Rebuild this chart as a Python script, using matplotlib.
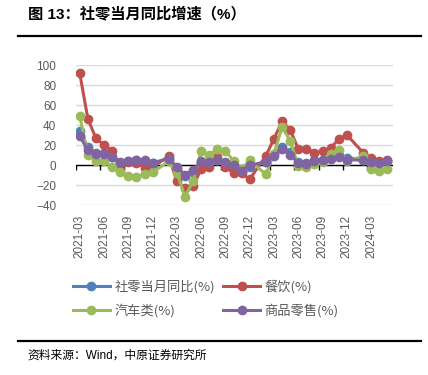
import matplotlib
matplotlib.use("Agg")
import matplotlib.pyplot as plt
from matplotlib.lines import Line2D

plt.rcParams['font.family'] = ['Liberation Sans', 'Noto Sans CJK SC', 'DejaVu Sans']

# months with data (January is reported together with February, so it is missing)
months = ['2021-03', '2021-04', '2021-05', '2021-06', '2021-07', '2021-08', '2021-09',
          '2021-10', '2021-11', '2021-12', '2022-02', '2022-03', '2022-04', '2022-05',
          '2022-06', '2022-07', '2022-08', '2022-09', '2022-10', '2022-11', '2022-12',
          '2023-02', '2023-03', '2023-04', '2023-05', '2023-06', '2023-07', '2023-08',
          '2023-09', '2023-10', '2023-11', '2023-12', '2024-02', '2024-03', '2024-04',
          '2024-05']

retail = [34.2, 17.7, 12.4, 12.1, 8.5, 2.5, 4.4, 4.9, 3.9, 1.7, 6.7, -3.5, -11.1, -6.7,
          3.1, 2.7, 5.4, 2.5, -0.5, -5.9, -1.8, 3.5, 10.6, 18.4, 12.7, 3.1, 2.5, 4.6,
          5.5, 7.6, 10.1, 7.4, 5.5, 3.1, 2.3, 3.7]
catering = [91.6, 46.4, 26.6, 20.0, 14.3, -4.5, 3.1, 2.0, -2.7, -2.2, 8.9, -16.4, -22.7,
            -21.1, -4.0, -1.5, 8.4, -1.7, -8.1, -8.4, -14.1, 9.2, 26.3, 43.8, 35.1, 16.1,
            15.8, 12.4, 13.8, 17.1, 25.8, 30.0, 12.5, 6.9, 4.4, 5.0]
autos = [48.8, 10.1, 4.5, 4.1, -1.8, -7.4, -11.3, -11.5, -9.0, -7.4, 3.7, -7.5, -31.6,
         -16.0, 13.9, 9.7, 15.9, 14.2, 3.9, -4.2, 4.6, -9.4, 11.5, 38.0, 24.2, -1.1,
         -1.5, 1.1, 2.8, 11.4, 14.7, 4.0, 8.7, -3.7, -5.6, -4.4]
goods = [28.6, 15.1, 10.9, 11.1, 7.8, 3.3, 4.5, 5.2, 4.8, 2.1, 6.5, -1.9, -9.7, -5.0,
         3.9, 3.2, 5.1, 2.9, 0.5, -5.6, 0.0, 2.9, 9.1, 15.9, 10.5, 1.7, 1.0, 3.7, 4.6,
         6.5, 8.0, 5.5, 4.6, 2.7, 2.0, 3.6]

names = ['社零当月同比(%)', '餐饮(%)', '汽车类(%)', '商品零售(%)']
colors = ['#4F81BD', '#C0504D', '#9BBB59', '#8064A2']


def month_pos(m):
    y, mo = int(m[:4]), int(m[5:])
    return (y - 2021) * 12 + mo - 3


xs = [month_pos(m) for m in months]
n_months = month_pos(months[-1]) + 1
tick_pos = list(range(0, n_months, 3))
tick_lab = ['%d-%02d' % (2021 + (p + 2) // 12, (p + 2) % 12 + 1) for p in tick_pos]

W, H = 428, 375
fig = plt.figure(figsize=(W / 100, H / 100), dpi=100)

# title and rules
fig.text(28 / W, 1 - 14 / H, '图 13：社零当月同比增速（%）', fontsize=11,
         fontweight='bold', va='center', ha='left', color='black')
fig.add_artist(Line2D([18 / W, 421 / W], [1 - 35.5 / H] * 2, color='black', lw=1.6))
fig.add_artist(Line2D([18 / W, 421 / W], [1 - 340.5 / H] * 2, color='black', lw=1.6))
fig.text(27 / W, 1 - 356 / H, '资料来源：Wind，中原证券研究所', fontsize=8.5,
         va='center', ha='left', color='black')

ax = fig.add_axes([75.7 / W, 1 - 205 / H, (393 - 75.7) / W, 140 / H])
ax.set_ylim(-40, 100)
ax.set_xlim(-0.5, 38.7)
ax.set_yticks(range(-40, 101, 20))
ax.yaxis.grid(True, color='#D9D9D9', lw=1)
ax.set_axisbelow(True)
for s in ax.spines.values():
    s.set_visible(False)
ax.tick_params(axis='y', length=0, pad=14, labelsize=8.5, labelcolor='#595959')
ax.set_xticks(tick_pos)
ax.set_xticklabels(tick_lab, rotation=90)
ax.tick_params(axis='x', length=0, pad=7, labelsize=8.5, labelcolor='#595959')

# zero line with tick marks between categories
ax.axhline(0, color='black', lw=1, zorder=1)
ax.vlines([p - 0.5 for p in tick_pos], -5, 0, color='black', lw=1, zorder=1)

lines = []
for vals, name, c in zip([retail, catering, autos, goods], names, colors):
    ln, = ax.plot(xs, vals, '-o', color=c, lw=2.2, ms=6, label=name, zorder=3)
    lines.append(ln)

# legend is filled column by column, so reorder to get row-wise layout
order = [0, 2, 1, 3]
leg = fig.legend([lines[i] for i in order], [names[i] for i in order],
                 loc='upper left', bbox_to_anchor=(73 / W, 1 - 280 / H), ncol=2,
                 frameon=False, handlelength=2.8, handletextpad=0.35,
                 columnspacing=0.6, labelspacing=0.75, borderpad=0, borderaxespad=0,
                 prop={'family': ['Noto Sans CJK SC'], 'size': 9.5})
for t in leg.get_texts():
    t.set_color('#595959')

fig.savefig('out.png', dpi=100)
